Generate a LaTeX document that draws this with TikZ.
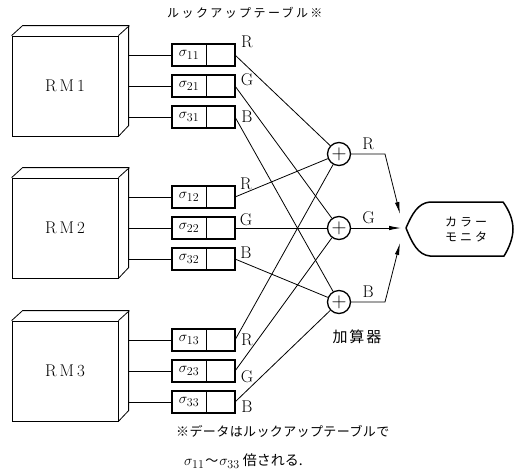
\documentclass[tikz,border=0pt]{standalone}
\usepackage{fontspec}
\usepackage{amsmath}
\usetikzlibrary{shapes,arrows,arrows.meta,positioning,calc}
\newfontfamily\cjk{Noto Sans CJK JP}

\tikzset{
  rmbox/.style={draw, line width=0.8pt, rectangle, minimum width=106pt, minimum height=100pt, font=\fontsize{17}{20}\selectfont},
  lutkey/.style={draw, line width=0.7pt, rectangle, minimum width=34pt, minimum height=22pt, inner sep=0pt, outer sep=0pt, font=\fontsize{15}{17}\selectfont},
  lutval/.style={draw, line width=0.7pt, rectangle, minimum width=29pt, minimum height=22pt, inner sep=0pt, outer sep=0pt},
  lutframe/.style={line width=1.5pt},
  chan/.style={inner sep=0pt, font=\fontsize{17}{20}\selectfont},
  adder/.style={draw, line width=1.3pt, circle, minimum size=23pt, inner sep=0pt, font=\fontsize{20}{20}\selectfont},
  wire/.style={line width=0.8pt},
  feed/.style={line width=0.8pt, -{Latex[length=12pt,width=4.5pt]}},
  jp/.style={inner sep=0pt, font=\cjk\fontsize{#1}{#1}\selectfont},
}

\begin{document}
\begin{tikzpicture}[x=1pt, y=-1pt]
  \useasboundingbox (0,0) rectangle (518,471);

  % title
  \node[jp=12, anchor=west] (title) at (167,13) {\addfontfeature{LetterSpace=20}ルックアップテーブル※};

  % adders
  \node[adder] (add1) at (339,154) {$+$};
  \node[adder] (add2) at (339,228) {$+$};
  \node[adder] (add3) at (339,302) {$+$};
  \node[jp=15] (addname) at (357,337) {\addfontfeature{LetterSpace=12}加算器};

  % memories and lookup tables
  \foreach \m/\ym in {1/86, 2/228, 3/371} {
    \node[rmbox] (rm\m) at (65,\ym) {R\hspace{3pt}M\hspace{3pt}\m};
    \draw[line width=0.8pt] (rm\m.north west) -- ++(11,-10) -- ++(106,0) -- ++(0,100) -- (rm\m.south east);
    \draw[line width=0.8pt] (rm\m.north east) -- ++(11,-10);
    \coordinate (rm\m b) at ($(rm\m.east)+(11,0)$);
    \foreach \c/\dy in {1/-31, 2/0, 3/31} {
      \node[lutkey] (k\c\m) at (189,{\ym+\dy}) {$\sigma_{\text{\rmfamily\fontsize{12}{12}\selectfont\c\m}}$};
      \node[lutval, right=0pt of k\c\m] (v\c\m) {};
      \draw[lutframe] (k\c\m.north west) rectangle (v\c\m.south east);
      \draw[wire] (rm\m b |- k\c\m) -- (k\c\m);
      \draw[wire] (v\c\m.east) -- (add\c);
    }
  }

  % channel labels
  \node[chan] (c11) at (247,42) {R};
  \node[chan] (c21) at (247,80) {G};
  \node[chan] (c31) at (247,117) {B};
  \node[chan] (c12) at (246,184) {R};
  \node[chan] (c22) at (246,220) {G};
  \node[chan] (c32) at (246,253) {B};
  \node[chan] (c13) at (247,340) {R};
  \node[chan] (c23) at (247,377) {G};
  \node[chan] (c33) at (247,407) {B};

  % color monitor
  \coordinate (mon) at (406,228);
  \draw[line width=1.5pt] (mon) .. controls (412,214) and (418,203) .. (430,202) -- (503,202)
    .. controls (509,210) and (513,220) .. (513,229) .. controls (513,238) and (509,248) .. (504,256)
    -- (430,256) .. controls (418,255) and (412,243) .. (mon);
  \node[jp=12, align=center] (montext) at (466,230) {\addfontfeature{LetterSpace=25}カラー\\[3pt]\addfontfeature{LetterSpace=25}モニタ};

  % outputs to monitor
  \coordinate (in1) at (400,214);
  \coordinate (in2) at (401,228);
  \coordinate (in3) at (400,243);
  \draw[feed] (add1) -- node[chan, above=4pt] (o1) {R} ++(46,0) -- (in1);
  \draw[feed] (add2) -- node[chan, pos=0.35, above=4pt] (o2) {G} (in2);
  \draw[feed] (add3) -- node[chan, above=4pt] (o3) {B} ++(46,0) -- (in3);

  % note
  \node[jp=13, anchor=west] (note1) at (176,431) {\addfontfeature{LetterSpace=3}※データはルックアップテーブルで};
  \node[jp=14, anchor=west] (note2) at (184,461) {\fontsize{15}{15}\selectfont $\sigma_{\text{\rmfamily\fontsize{12}{12}\selectfont 11}}$\hspace{1pt}{\fontsize{13}{13}\selectfont 〜}\hspace{1pt}$\sigma_{\text{\rmfamily\fontsize{12}{12}\selectfont 33}}$\hspace{3pt}{\fontsize{14}{14}\selectfont 倍される.}};
\end{tikzpicture}
\end{document}
